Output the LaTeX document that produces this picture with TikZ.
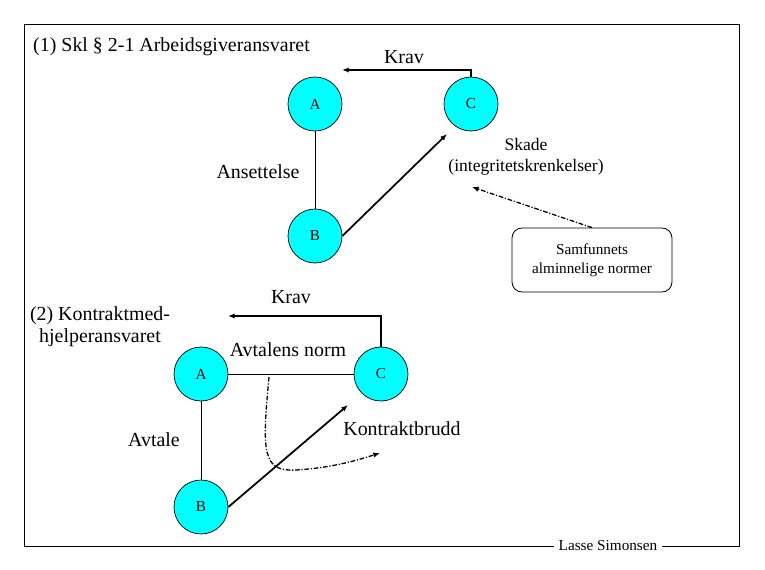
\documentclass[tikz,border=0pt]{standalone}
\usepackage{fontspec}
\setmainfont{Liberation Serif}
\usetikzlibrary{arrows.meta, calc, positioning}
\definecolor{aqua}{RGB}{0,255,255}
\tikzset{> = { Latex[length = 2mm, width = 1.6mm] }}
\tikzset{
	pers/.style = {draw, line width = 0.6pt, circle, fill = aqua, minimum size = 1.62cm, inner sep = 0pt, font = \fontsize{13}{13}\selectfont},
	lbl/.style = {font = \fontsize{17}{19}\selectfont, align = center, inner sep = 0pt},
	normbox/.style = {draw, line width = 0.7pt, rounded corners = 0.3cm, minimum width = 4.8cm, minimum height = 1.92cm, align = center, font = \fontsize{13}{16}\selectfont},
	krav/.style = {->, line width = 1.3pt},
	brudd/.style = {->, line width = 1.5pt},
	normline/.style = {->, line width = 1.1pt, dash pattern = on 4pt off 1.5pt on 1pt off 1.5pt}
}

\begin{document}
\begin{tikzpicture}[x = 0.03cm, y = -0.03cm]
		\useasboundingbox (0, 0) rectangle (765, 570);
		\draw [line width = 0.7pt] (24, 24) rectangle (739, 546);
		\node [fill = white, inner xsep = 4pt, inner ysep = 1pt, font = \fontsize{13}{13}\selectfont] (sign) at (608, 546) {Lasse Simonsen};

		% (1) arbeidsgiveransvaret
		\node [lbl, anchor = west] (title1) at (33, 47) {(1) Skl § 2-1 Arbeidsgiveransvaret};
		\node [pers] (A1) at (315, 104) {A};
		\node [pers] (C1) at (471, 104) {C};
		\node [pers] (B1) at (315, 236) {B};
		\draw [line width = 0.6pt] (A1) -- (B1);
		\node [lbl] (ans) at (258, 172) {Ansettelse};
		\coordinate (krav1) at (342, 70);
		\draw [krav] (C1.north) |- (krav1);
		\node [lbl] (kravtxt1) at (404, 57) {Krav};
		\coordinate (skadept) at (447, 134);
		\draw [brudd] (B1.east) -- (skadept);
		\node [lbl, font = \fontsize{15}{18}\selectfont] (skade) at (526, 157) {Skade\\(integritetskrenkelser)};
		\node [normbox] (norm) at (592, 260) {Samfunnets\\alminnelige normer};
		\coordinate (skadeend) at (472, 187);
		\draw [normline] (norm.north) -- (skadeend);

		% (2) kontraktmedhjelperansvaret
		\node [lbl] (title2) at (100, 327) {(2) Kontraktmed-\\hjelperansvaret};
		\node [pers] (A2) at (201, 374) {A};
		\node [pers] (C2) at (381, 374) {C};
		\node [pers] (B2) at (201, 507) {B};
		\draw [line width = 0.6pt] (A2) -- (B2);
		\draw [line width = 0.6pt] (A2) -- (C2);
		\node [lbl] (avtale) at (154, 440) {Avtale};
		\node [lbl] (avtnorm) at (288, 350) {Avtalens norm};
		\coordinate (krav2) at (228, 316);
		\draw [krav] (C2.north) |- (krav2);
		\node [lbl] (kravtxt2) at (291, 297) {Krav};
		\coordinate (bruddpt) at (348, 405);
		\draw [brudd] (B2.east) -- (bruddpt);
		\node [lbl] (brudd) at (402, 429) {Kontraktbrudd};
		\coordinate (normstart) at (269, 377);
		\coordinate (normend) at (380, 453);
		\draw [normline] (normstart) .. controls (262, 452) and (262, 472) .. (296, 470) .. controls (330, 468) and (355, 461) .. (normend);
	\end{tikzpicture}
\end{document}
